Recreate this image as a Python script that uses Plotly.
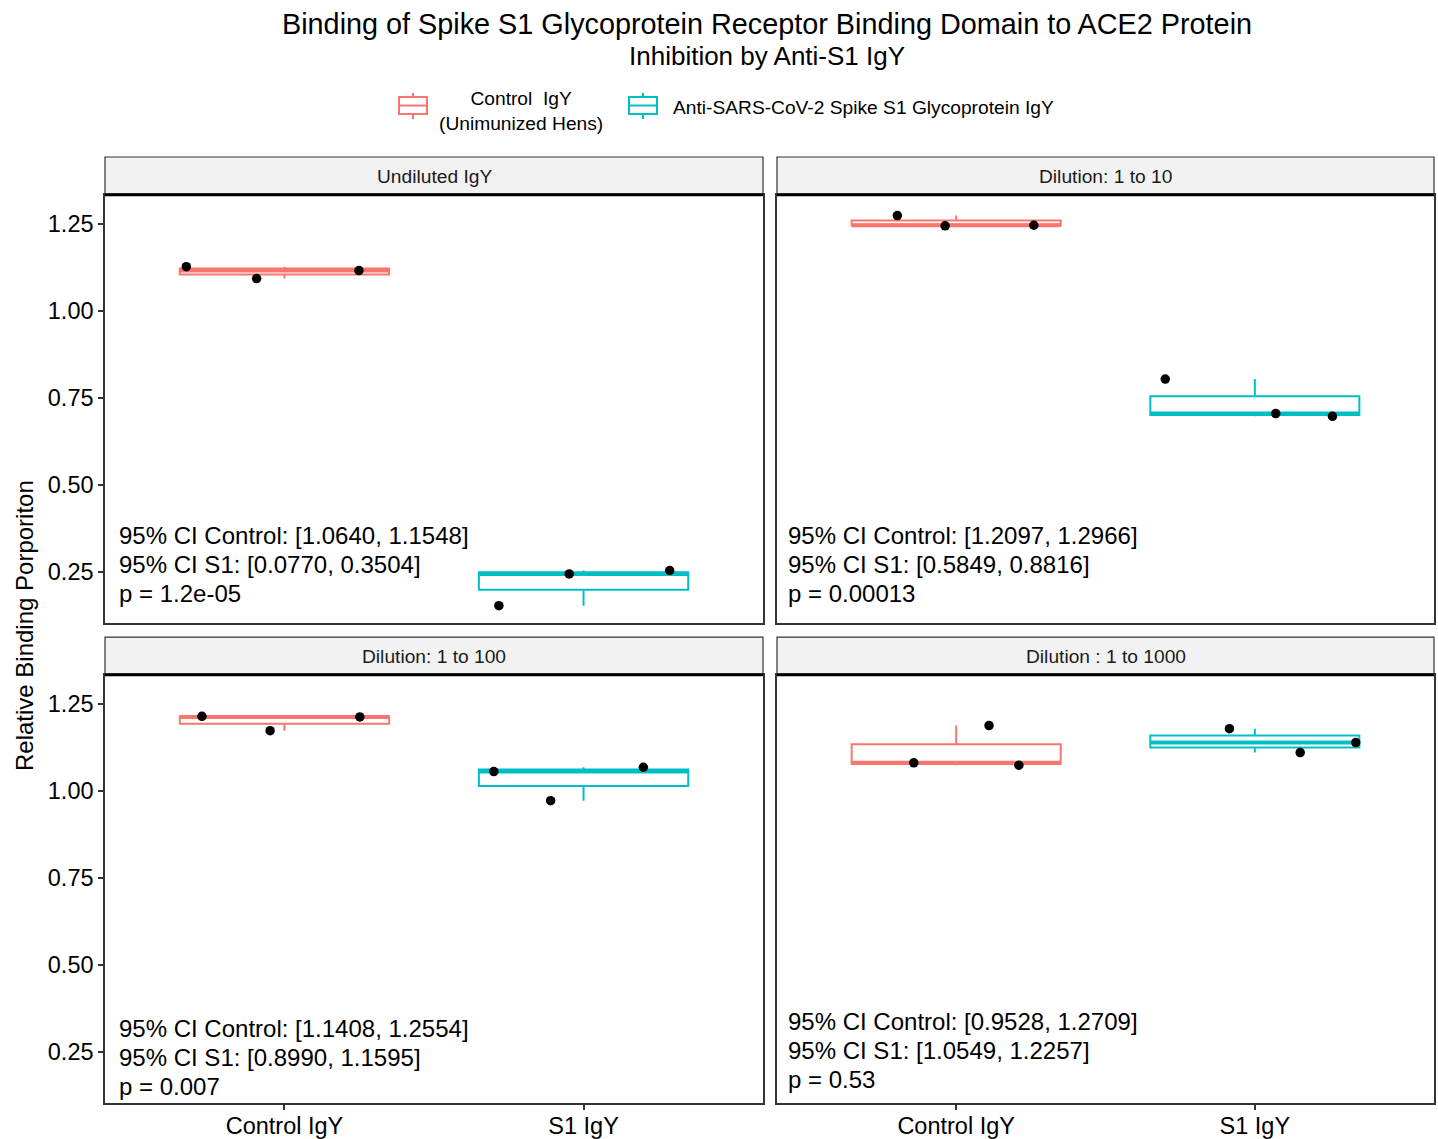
import numpy as np
import plotly.graph_objects as go

W, H = 1438, 1139
FONT = "Liberation Sans, Arial, Helvetica, sans-serif"

# ---------------- data ----------------
panel_titles = ["Undiluted IgY", "Dilution: 1 to 10", "Dilution: 1 to 100", "Dilution : 1 to 1000"]
categories = ["Control IgY", "S1 IgY"]
control_values = [
    [1.126, 1.092, 1.115],
    [1.273, 1.2434, 1.2451],
    [1.2135, 1.172, 1.2117],
    [1.1868, 1.0796, 1.0728],
]
s1_values = [
    [0.152, 0.243, 0.253],
    [0.803, 0.704, 0.696],
    [1.0546, 0.971, 1.067],
    [1.178, 1.1092, 1.138],
]
# horizontal jitter of the individual points (category units)
control_jitter = [
    [-0.328, -0.093, 0.249],
    [-0.197, -0.037, 0.26],
    [-0.276, -0.048, 0.252],
    [0.11, -0.142, 0.21],
]
s1_jitter = [
    [-0.283, -0.048, 0.288],
    [-0.30, 0.07, 0.26],
    [-0.30, -0.11, 0.20],
    [-0.085, 0.152, 0.338],
]
ci_control = ["[1.0640, 1.1548]", "[1.2097, 1.2966]", "[1.1408, 1.2554]", "[0.9528, 1.2709]"]
ci_s1 = ["[0.0770, 0.3504]", "[0.5849, 0.8816]", "[0.8990, 1.1595]", "[1.0549, 1.2257]"]
p_values = ["1.2e-05", "0.00013", "0.007", "0.53"]
y_ticks = [0.25, 0.50, 0.75, 1.00, 1.25]
legend_labels = ["Control\u00a0 IgY<br>(Unimunized Hens)", "Anti-SARS-CoV-2 Spike S1 Glycoprotein IgY"]

# ---------------- style ----------------
RED = "#F8766D"
TEAL = "#00BFC4"
BORDER = "#333333"
BOX_W = 0.7
KY = 1.0027  # small vertical correction for the rendering


def px(x):
    return x / W


def py(y):
    return 1 - (y * KY) / H


# panel pixel geometry (left, right, top, bottom)
panels_px = [
    (105, 763, 195, 623),
    (777, 1434, 195, 623),
    (105, 763, 675, 1103),
    (777, 1434, 675, 1103),
]
ci_lines_px = [(536, 565, 594), (536, 565, 594), (1029, 1058, 1087), (1022, 1051, 1080)]
ci_left_pad = [12, 9, 12, 9]

fig = go.Figure()
shapes = []
annotations = []
layout_axes = {}

for i in range(4):
    sfx = "" if i == 0 else str(i + 1)
    xa, ya = "x" + sfx, "y" + sfx
    l, r, t, b = panels_px[i]
    for pos, vals, jit, col in [
        (0, control_values[i], control_jitter[i], RED),
        (1, s1_values[i], s1_jitter[i], TEAL),
    ]:
        vals = np.array(vals)
        fig.add_trace(go.Box(
            x=[pos] * len(vals), y=vals, width=BOX_W,
            line=dict(color=col, width=2), fillcolor="white",
            boxpoints=False, whiskerwidth=0, quartilemethod="inclusive",
            xaxis=xa, yaxis=ya, showlegend=False, hoverinfo="y",
        ))
        med = float(np.median(vals))
        fig.add_trace(go.Scatter(
            x=[pos - BOX_W / 2, pos + BOX_W / 2], y=[med, med], mode="lines",
            line=dict(color=col, width=4), xaxis=xa, yaxis=ya,
            showlegend=False, hoverinfo="skip",
        ))
        fig.add_trace(go.Scatter(
            x=pos + np.array(jit), y=vals, mode="markers",
            marker=dict(color="black", size=9.5),
            xaxis=xa, yaxis=ya, showlegend=False,
        ))

    bottom_row = i >= 2
    left_col = i % 2 == 0
    layout_axes["xaxis" + sfx] = dict(
        domain=[px(l), px(r)], anchor=ya, range=[-0.6, 1.6],
        tickvals=[0, 1], ticktext=categories,
        showticklabels=bottom_row, ticks="outside" if bottom_row else "",
        ticklen=5, tickwidth=1.5, tickcolor=BORDER, ticklabelstandoff=-4,
        tickfont=dict(family=FONT, size=23.5, color="black"),
        showgrid=False, zeroline=False, showline=True, mirror=True,
        linecolor=BORDER, linewidth=1.5,
    )
    layout_axes["yaxis" + sfx] = dict(
        domain=[py(b), py(t)], anchor=xa, range=[0.102, 1.332],
        tickvals=y_ticks, ticktext=["%.2f" % v for v in y_ticks],
        showticklabels=left_col, ticks="outside" if left_col else "",
        ticklen=5, tickwidth=1.5, tickcolor=BORDER,
        tickfont=dict(family=FONT, size=23.5, color="black"),
        showgrid=False, zeroline=False, showline=True, mirror=True,
        linecolor=BORDER, linewidth=1.5,
    )

    # strip
    shapes.append(dict(type="rect", xref="paper", yref="paper",
                       x0=px(l), x1=px(r), y0=py(t), y1=py(t - 38),
                       fillcolor="#F2F2F2", line=dict(color=BORDER, width=1.2), layer="below"))
    shapes.append(dict(type="line", xref="paper", yref="paper",
                       x0=px(l), x1=px(r), y0=py(t), y1=py(t),
                       line=dict(color="black", width=2.5)))
    annotations.append(dict(text=panel_titles[i], xref="paper", yref="paper",
                            x=px((l + r) / 2), y=py(t - 19), showarrow=False,
                            xanchor="center", yanchor="middle",
                            font=dict(family=FONT, size=19.2, color="#1A1A1A")))
    # CI text
    lines = ["95% CI Control: " + ci_control[i], "95% CI S1: " + ci_s1[i], "p = " + p_values[i]]
    for txt, yy in zip(lines, ci_lines_px[i]):
        annotations.append(dict(text=txt, xref="paper", yref="paper",
                                x=px(l + ci_left_pad[i]), y=py(yy - 0.5), showarrow=False,
                                xanchor="left", yanchor="middle",
                                font=dict(family=FONT, size=24, color="black")))

# titles
annotations.append(dict(text="Binding of Spike S1 Glycoprotein Receptor Binding Domain to ACE2 Protein",
                        xref="paper", yref="paper", x=px(767.5), y=py(24), showarrow=False,
                        xanchor="center", yanchor="middle",
                        font=dict(family=FONT, size=28.8, color="black")))
annotations.append(dict(text="Inhibition by Anti-S1 IgY",
                        xref="paper", yref="paper", x=px(767.5), y=py(56), showarrow=False,
                        xanchor="center", yanchor="middle",
                        font=dict(family=FONT, size=26, color="black")))
annotations.append(dict(text="Relative Binding Porporiton", textangle=-90,
                        xref="paper", yref="paper", x=px(24), y=py(626), showarrow=False,
                        xanchor="center", yanchor="middle",
                        font=dict(family=FONT, size=24, color="black")))

# legend (manual, ggplot style keys)
legend_keys = [(399, 427, RED), (629, 657, TEAL)]
for (k0, k1, col) in legend_keys:
    cx = (k0 + k1) / 2
    shapes.append(dict(type="line", xref="paper", yref="paper", x0=px(cx), x1=px(cx),
                       y0=py(93), y1=py(119), line=dict(color=col, width=2)))
    shapes.append(dict(type="rect", xref="paper", yref="paper", x0=px(k0), x1=px(k1),
                       y0=py(114), y1=py(97), fillcolor="white", line=dict(color=col, width=2)))
    shapes.append(dict(type="line", xref="paper", yref="paper", x0=px(k0), x1=px(k1),
                       y0=py(105.5), y1=py(105.5), line=dict(color=col, width=2)))
annotations.append(dict(text=legend_labels[0], xref="paper", yref="paper",
                        x=px(521), y=py(111), showarrow=False, align="center",
                        xanchor="center", yanchor="middle",
                        font=dict(family=FONT, size=19.2, color="black")))
annotations.append(dict(text=legend_labels[1], xref="paper", yref="paper",
                        x=px(671), y=py(107), showarrow=False,
                        xanchor="left", yanchor="middle",
                        font=dict(family=FONT, size=19.2, color="black")))

fig.update_layout(
    width=W, height=H, autosize=False,
    margin=dict(l=0, r=0, t=0, b=0),
    paper_bgcolor="white", plot_bgcolor="white",
    showlegend=False, boxmode="overlay",
    shapes=shapes, annotations=annotations,
    font=dict(family=FONT),
    **layout_axes,
)

fig.write_html(
    "out.html",
    config={"displayModeBar": False},
    post_script="document.body.style.margin='0';document.body.style.overflow='hidden';",
)
